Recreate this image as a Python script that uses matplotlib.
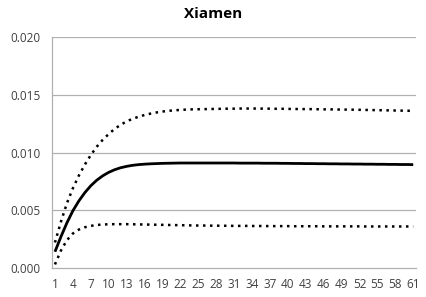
import matplotlib.pyplot as plt

# Daten
periods = list(range(1, 62))

response = [0.00140, 0.00270, 0.00390, 0.00495, 0.00580, 0.00652, 0.00712, 0.00760, 0.00798, 0.00828,
            0.00851, 0.00868, 0.00880, 0.00889, 0.00895, 0.00899, 0.00902, 0.00904, 0.00906, 0.00907,
            0.00908, 0.00909, 0.00909, 0.00909, 0.00909, 0.00909, 0.00909, 0.00909, 0.00909, 0.00909,
            0.00909, 0.00908, 0.00908, 0.00908, 0.00908, 0.00907, 0.00907, 0.00907, 0.00906, 0.00906,
            0.00905, 0.00905, 0.00904, 0.00904, 0.00903, 0.00903, 0.00902, 0.00902, 0.00901, 0.00901,
            0.00900, 0.00900, 0.00899, 0.00899, 0.00898, 0.00898, 0.00897, 0.00897, 0.00896, 0.00896,
            0.00895]

upper = [0.00220, 0.00400, 0.00560, 0.00690, 0.00800, 0.00895, 0.00978, 0.01050, 0.01110, 0.01160,
         0.01205, 0.01240, 0.01270, 0.01292, 0.01310, 0.01325, 0.01337, 0.01347, 0.01355, 0.01361,
         0.01366, 0.01369, 0.01372, 0.01374, 0.01375, 0.01376, 0.01377, 0.01378, 0.01379, 0.01380,
         0.01380, 0.01381, 0.01381, 0.01381, 0.01381, 0.01380, 0.01380, 0.01379, 0.01379, 0.01378,
         0.01377, 0.01377, 0.01376, 0.01376, 0.01375, 0.01374, 0.01374, 0.01373, 0.01372, 0.01372,
         0.01371, 0.01370, 0.01369, 0.01368, 0.01367, 0.01366, 0.01365, 0.01364, 0.01363, 0.01362,
         0.01361]

lower = [0.00030, 0.00150, 0.00240, 0.00298, 0.00332, 0.00352, 0.00364, 0.00372, 0.00376, 0.00378,
         0.00379, 0.00379, 0.00379, 0.00378, 0.00377, 0.00376, 0.00375, 0.00374, 0.00373, 0.00372,
         0.00371, 0.00370, 0.00369, 0.00368, 0.00367, 0.00367, 0.00366, 0.00366, 0.00365, 0.00365,
         0.00364, 0.00364, 0.00364, 0.00363, 0.00363, 0.00363, 0.00362, 0.00362, 0.00362, 0.00362,
         0.00361, 0.00361, 0.00361, 0.00361, 0.00361, 0.00360, 0.00360, 0.00360, 0.00360, 0.00360,
         0.00360, 0.00360, 0.00359, 0.00359, 0.00359, 0.00359, 0.00359, 0.00359, 0.00359, 0.00359,
         0.00359]

plt.rcParams['font.family'] = ['Open Sans', 'DejaVu Sans']

fig = plt.figure(figsize=(4.26, 2.97), dpi=100)
ax = fig.add_axes([0.122, 0.098, 0.855, 0.777])

# Gitterlinien
for y in [0.005, 0.010, 0.015, 0.020]:
    ax.axhline(y, color="#b0b0b0", lw=0.9, zorder=0)

ax.plot(periods, upper, color="black", lw=1.8, linestyle=(0, (1, 1.8)))
ax.plot(periods, lower, color="black", lw=1.8, linestyle=(0, (1, 1.8)))
ax.plot(periods, response, color="black", lw=2.0, solid_capstyle="butt")

ax.set_xlim(0.5, 61.5)
ax.set_ylim(0, 0.020)
ax.set_xticks(periods[::3])
ax.set_yticks([0.0, 0.005, 0.010, 0.015, 0.020])
ax.set_yticklabels(["0.000", "0.005", "0.010", "0.015", "0.020"])
ax.tick_params(axis="both", length=0, labelsize=8.5, colors="#404040")
ax.tick_params(axis="x", pad=7)
ax.tick_params(axis="y", pad=8)

for side in ["top", "right"]:
    ax.spines[side].set_visible(False)
for side in ["left", "bottom"]:
    ax.spines[side].set_color("#b0b0b0")
    ax.spines[side].set_linewidth(0.9)

fig.suptitle("Xiamen", fontsize=11, fontweight="bold", y=0.975)

plt.savefig("out.png", dpi=100)
plt.close()
